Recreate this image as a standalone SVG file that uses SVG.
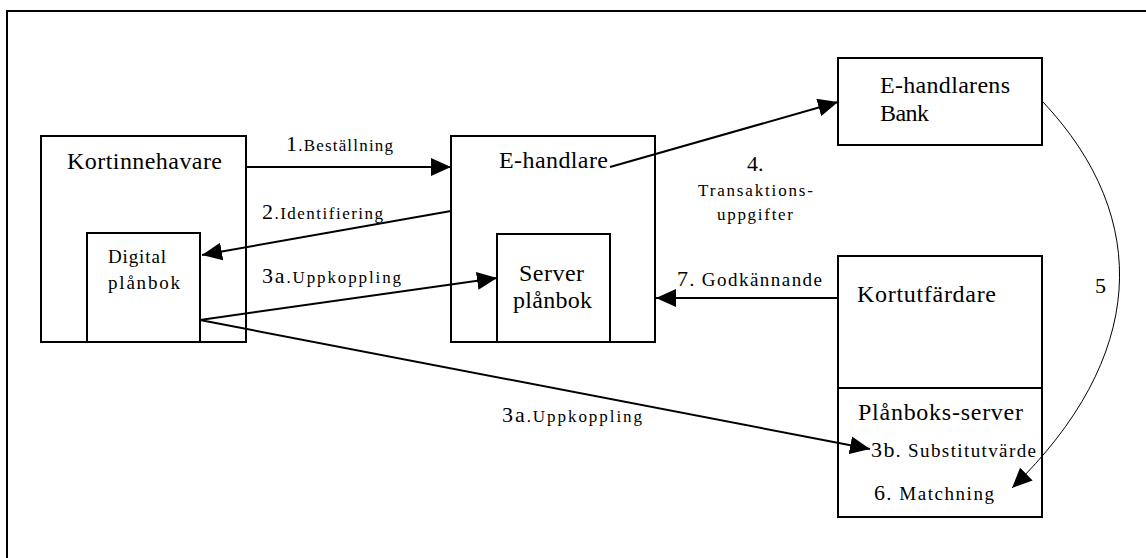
<svg xmlns="http://www.w3.org/2000/svg" width="1146" height="558" viewBox="0 0 1146 558">
<style>
.box{fill:#fff;stroke:#000;stroke-width:2}
.frame{fill:none;stroke:#000;stroke-width:2}
.ln{fill:none;stroke:#000;stroke-width:2}
.thin{fill:none;stroke:#000;stroke-width:1}
</style>
<defs>
<marker id="arr" viewBox="0 0 20 18" refX="20" refY="9" markerWidth="20" markerHeight="18" markerUnits="userSpaceOnUse" orient="auto">
<path d="M0,0 L20,9 L0,18 z" fill="#000"/>
</marker>
</defs>
<rect width="1146" height="558" fill="#fff"/>
<path class="frame" d="M7,570 V11 H1160"/>

<g font-family="Liberation Serif, DejaVu Serif, serif" fill="#000">
<g id="kortinnehavare">
<rect class="box" x="41" y="136" width="205" height="206"/>
<text font-size="24" x="67" y="169" textLength="155" lengthAdjust="spacing">Kortinnehavare</text>
<g id="digital-planbok">
<rect class="box" x="87" y="233" width="113" height="109"/>
<text font-size="19" x="108" y="263" textLength="58" lengthAdjust="spacing">Digital</text>
<text font-size="19" x="108" y="289" textLength="72" lengthAdjust="spacing">plånbok</text>
</g>
</g>

<g id="e-handlare">
<rect class="box" x="451" y="136" width="204" height="206"/>
<text font-size="24" x="499" y="168" textLength="109" lengthAdjust="spacing">E-handlare</text>
<g id="server-planbok">
<rect class="box" x="497" y="234" width="113" height="108"/>
<text font-size="24" x="519" y="281" textLength="65" lengthAdjust="spacing">Server</text>
<text font-size="24" x="513" y="308" textLength="79" lengthAdjust="spacing">plånbok</text>
</g>
</g>

<g id="e-handlarens-bank">
<rect class="box" x="838" y="58" width="204" height="87"/>
<text font-size="24" x="880" y="93" textLength="130" lengthAdjust="spacing">E-handlarens</text>
<text font-size="24" x="880" y="121" textLength="49" lengthAdjust="spacing">Bank</text>
</g>

<g id="kortutfardare">
<rect class="box" x="838" y="256" width="204" height="261"/>
<text font-size="24" x="857" y="302" textLength="139" lengthAdjust="spacing">Kortutfärdare</text>
<g id="planboks-server">
<line class="ln" x1="838" y1="388" x2="1042" y2="388"/>
<text font-size="24" x="858" y="420" textLength="165" lengthAdjust="spacing">Plånboks-server</text>
<text font-size="19" x="871" y="457" textLength="165" lengthAdjust="spacing"><tspan font-size="22">3b</tspan>. Substitutvärde</text>
<text font-size="19" x="874" y="500" textLength="120" lengthAdjust="spacing"><tspan font-size="22">6</tspan>. Matchning</text>
</g>
</g>

<g id="connectors">
<line class="ln" x1="246" y1="167" x2="451" y2="167" marker-end="url(#arr)"/>
<line class="ln" x1="451" y1="211" x2="202" y2="255" marker-end="url(#arr)"/>
<line class="ln" x1="200" y1="320" x2="497" y2="278" marker-end="url(#arr)"/>
<line class="ln" x1="200" y1="320" x2="870" y2="449" marker-end="url(#arr)"/>
<line class="ln" x1="610" y1="167" x2="838" y2="102" marker-end="url(#arr)"/>
<line class="ln" x1="838" y1="298" x2="656" y2="298" marker-end="url(#arr)"/>
<path class="thin" d="M1043,102 C1153,219 1146,358 1012,488" marker-end="url(#arr)"/>

<text font-size="17" x="286" y="151" textLength="107" lengthAdjust="spacing"><tspan font-size="22">1</tspan>.Beställning</text>
<text font-size="17" x="262" y="219" textLength="121" lengthAdjust="spacing"><tspan font-size="22">2</tspan>.Identifiering</text>
<text font-size="17" x="262" y="283" textLength="139" lengthAdjust="spacing"><tspan font-size="22">3a</tspan>.Uppkoppling</text>
<text font-size="17" x="502" y="422" textLength="140" lengthAdjust="spacing"><tspan font-size="22">3a</tspan>.Uppkoppling</text>
<text font-size="22" x="747" y="171">4.</text>
<text font-size="17" x="698" y="196" textLength="115" lengthAdjust="spacing">Transaktions-</text>
<text font-size="17" x="717" y="220" textLength="76" lengthAdjust="spacing">uppgifter</text>
<text font-size="19" x="677" y="286" textLength="145" lengthAdjust="spacing"><tspan font-size="22">7</tspan>. Godkännande</text>
<text font-size="22" x="1095" y="293">5</text>
</g>
</g>
</svg>
